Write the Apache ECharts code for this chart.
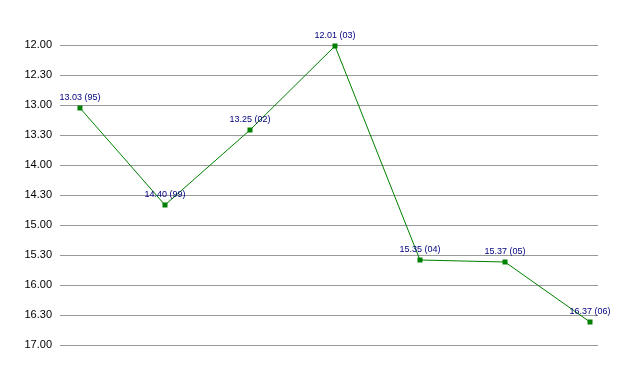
<!DOCTYPE html>
<html>
<head>
<meta charset="utf-8">
<script src="https://cdn.jsdelivr.net/npm/echarts@6/dist/echarts.min.js"></script>
<style>html,body{margin:0;padding:0;background:#fff;}#c{width:638px;height:375px;}</style>
</head>
<body>
<div id="c"></div>
<script>
// Season years and times (in seconds; shown as minutes.seconds)
var years = ['95', '99', '02', '03', '04', '05', '06'];
var timesSec = [783, 880, 805, 721, 935, 937, 997];
var yMin = 720, yMax = 1020, yStep = 30;

function fmt(sec) {
  var m = Math.floor(sec / 60), s = sec % 60;
  return m + '.' + (s < 10 ? '0' : '') + s;
}

var data = timesSec.map(function (v, i) { return [i, v]; });

var chart = echarts.init(document.getElementById('c'), null, {renderer: 'canvas'});
chart.setOption({
  animation: false,
  backgroundColor: '#ffffff',
  grid: {left: 60, right: 40, top: 45, bottom: 30, containLabel: false},
  xAxis: {
    type: 'value', min: -0.235, max: 6.094,
    show: false,
    splitLine: {show: false}
  },
  yAxis: {
    type: 'value', inverse: true, min: yMin, max: yMax, interval: yStep,
    axisLine: {show: false}, axisTick: {show: false},
    axisLabel: {
      formatter: function (v) { return fmt(v); },
      color: '#000', fontSize: 11, margin: 8,
      fontFamily: '"Liberation Sans Narrow", "Liberation Sans", Arial, sans-serif'
    },
    splitLine: {lineStyle: {color: '#999999', width: 1}}
  },
  series: [{
    type: 'line',
    data: data,
    symbol: 'rect', symbolSize: 5,
    lineStyle: {color: '#008000', width: 1},
    itemStyle: {color: '#008000'},
    label: {
      show: true, position: 'top', distance: 3,
      color: '#000080', fontSize: 9,
      fontFamily: '"Liberation Sans", Arial, sans-serif',
      formatter: function (p) { return fmt(p.value[1]) + ' (' + years[p.dataIndex] + ')'; }
    }
  }]
});
</script>
</body>
</html>
